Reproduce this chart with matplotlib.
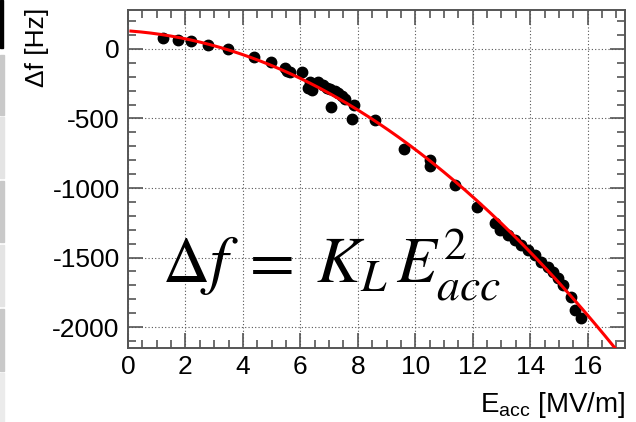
import numpy as np
import matplotlib
matplotlib.use('Agg')
import matplotlib.pyplot as plt
from matplotlib.patches import Rectangle

# Measured detuning vs accelerating gradient
e_acc = [1.23, 1.75, 2.19, 2.77, 3.49, 4.39, 4.97, 5.46, 5.55, 5.63,
         6.04, 6.26, 6.33, 6.39, 6.45, 6.62, 6.79, 6.91, 7.03, 7.06,
         7.20, 7.32, 7.45, 7.55, 7.78, 7.88, 8.61, 9.61, 10.50, 10.52,
         11.37, 12.15, 12.77, 12.94, 13.23, 13.46, 13.69, 13.92, 14.16, 14.39,
         14.62, 14.79, 14.97, 15.14, 15.43, 15.55, 15.78]
delta_f = [81, 65, 58, 29, -2, -60, -91, -139, -155, -168,
           -165, -281, -235, -295, -250, -235, -259, -280, -290, -420,
           -300, -315, -340, -360, -502, -405, -511, -722, -799, -842,
           -978, -1136, -1254, -1302, -1338, -1374, -1410, -1446, -1482, -1530,
           -1566, -1602, -1650, -1698, -1782, -1878, -1937]

# fit: df = c0 + c1*E + c2*E^2
fit_c0 = 130.0
fit_c1 = -14.5
fit_c2 = -7.08
fit_range = (0.1, 17.3)

xticks = [0, 2, 4, 6, 8, 10, 12, 14, 16]
yticks = [-2000, -1500, -1000, -500, 0]

plt.rcParams['font.family'] = ['Liberation Sans', 'DejaVu Sans']
plt.rcParams['axes.unicode_minus'] = False
plt.rcParams['mathtext.fontset'] = 'custom'
plt.rcParams['mathtext.rm'] = 'Liberation Sans'
plt.rcParams['mathtext.it'] = 'Liberation Sans:italic'

fig = plt.figure(figsize=(6.36, 4.22), dpi=100)
ax = fig.add_axes([0.2013, 0.1754, 0.9827 - 0.2013, 0.9763 - 0.1754])

# left screenshot strip
fig.patches.append(Rectangle((0, 1 - 48 / 422), 3.5 / 636, 48 / 422,
                             transform=fig.transFigure, color='black'))
strip = [(55, 115, '#c9c9c9'), (117, 178, '#e4e4e4'), (181, 242, '#c9c9c9'),
         (245, 306, '#e4e4e4'), (309, 371, '#c9c9c9'), (373, 422, '#ebebeb')]
for y0, y1, c in strip:
    fig.patches.append(Rectangle((0, 1 - y1 / 422), 4 / 636, (y1 - y0) / 422,
                                 transform=fig.transFigure, color=c))

ax.set_xlim(0, 17.3)
ax.set_ylim(-2150, 280)

ax.grid(True, which='major', linestyle=(0, (1, 2)), color='#555555', linewidth=0.8)
ax.set_axisbelow(True)

xs = np.linspace(fit_range[0], fit_range[1], 300)
ax.plot(xs, fit_c0 + fit_c1 * xs + fit_c2 * xs ** 2, color='red', lw=2.2, zorder=3)
ax.plot(e_acc, delta_f, 'o', color='black', ms=7.5, zorder=2)

ax.set_xticks(xticks)
ax.set_yticks(yticks)
ax.set_xticks(np.arange(0, 17.3, 0.5), minor=True)
ax.set_yticks(np.arange(-2100, 281, 100), minor=True)
ax.tick_params(which='both', direction='in', top=True, right=True,
               labelsize=19, color='#555555', width=1.2)
ax.tick_params(which='major', length=11)
ax.tick_params(which='minor', length=5.5)
ax.tick_params(axis='x', pad=5)
ax.tick_params(axis='y', pad=6)
for s in ax.spines.values():
    s.set_color('#555555')
    s.set_linewidth(1.4)

fig.text(0.058, 0.982, 'Δf [Hz]', rotation=90, ha='center', va='top', fontsize=19)
fig.text(0.983, 0.024, r'$\mathrm{E}_{\mathrm{acc}}$ [MV/m]', ha='right', va='baseline',
         fontsize=20)

fig.text(0.254, 0.329, r'$\Delta f\;=\;K_L\,E_{acc}^2$', math_fontfamily='stix',
         fontsize=47, ha='left', va='baseline')

fig.savefig('out.png', dpi=100)
